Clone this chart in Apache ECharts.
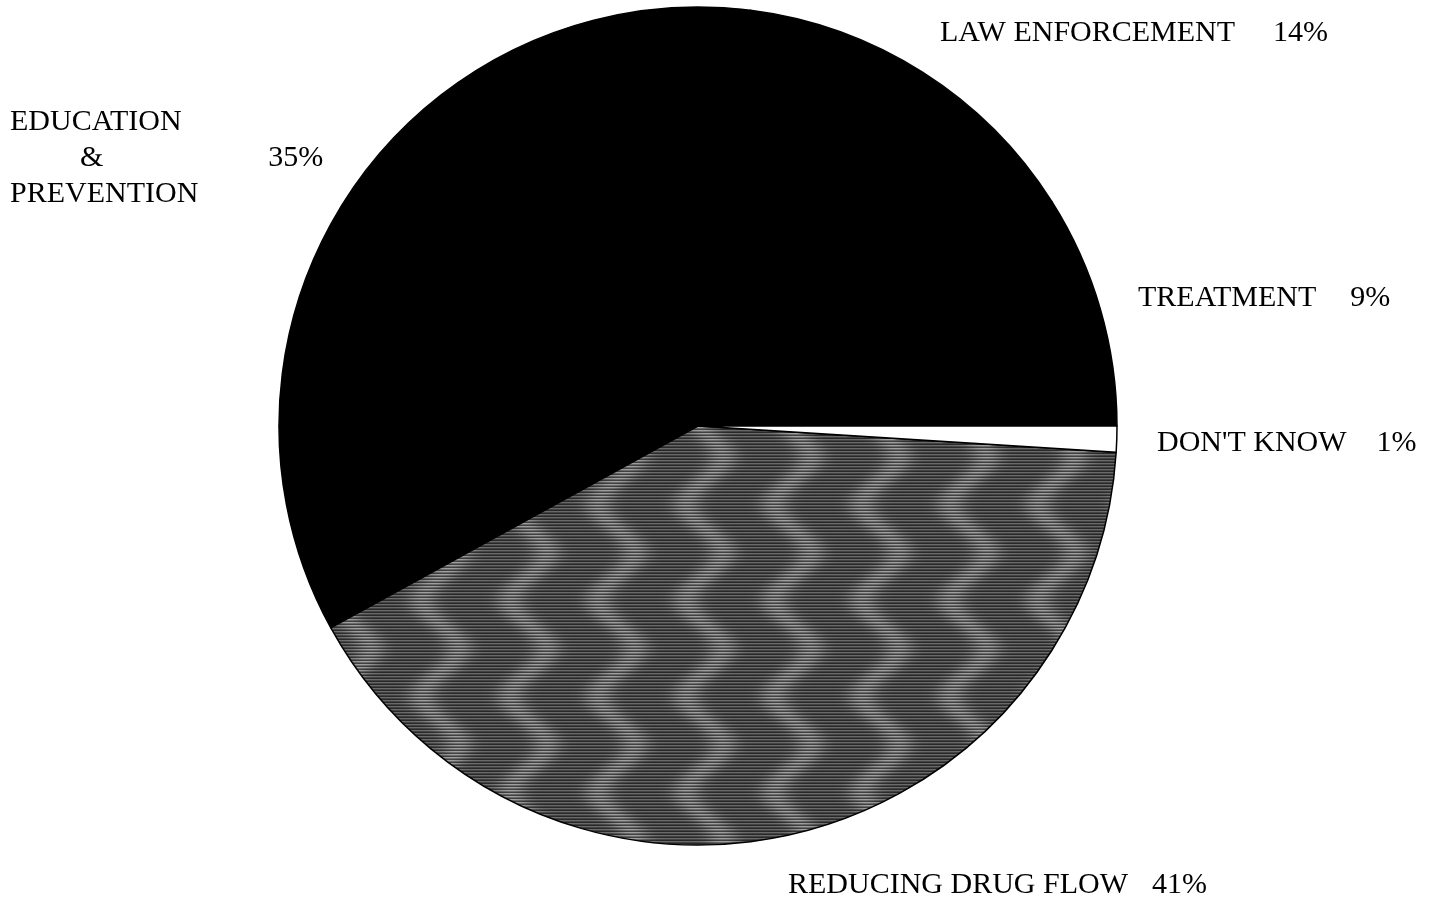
<!DOCTYPE html>
<html>
<head>
<meta charset="utf-8">
<script src="https://cdn.jsdelivr.net/npm/echarts@6/dist/echarts.min.js"></script>
<style>
html,body{margin:0;padding:0;background:#fff;}
#chart{width:1437px;height:901px;}
</style>
</head>
<body>
<div id="chart"></div>
<script>
// Data
const categories = ['TREATMENT', 'LAW ENFORCEMENT', 'EDUCATION & PREVENTION', 'REDUCING DRUG FLOW', "DON'T KNOW"];
const values = [9, 14, 35, 41, 1];

// Styling (not data): striped texture with soft wavy light bands
function stripePattern() {
  const W = 88, H = 96;
  const c = document.createElement('canvas');
  c.width = W; c.height = H;
  const ctx = c.getContext('2d');
  const img = ctx.createImageData(W, H);
  for (let y = 0; y < H; y++) {
    const s = Math.sin(2 * Math.PI * y / H);
    for (let x = 0; x < W; x++) {
      const phase = (x + 18 * s) / W;
      const light = Math.pow(0.5 + 0.5 * Math.cos(2 * Math.PI * phase), 3);
      let v;
      if (y % 3 === 0) v = 40 + light * 25;
      else if (y % 3 === 1) v = 105 + light * 55;
      else v = 66 + light * 40;
      const k = (y * W + x) * 4;
      img.data[k] = img.data[k + 1] = img.data[k + 2] = Math.round(v);
      img.data[k + 3] = 255;
    }
  }
  ctx.putImageData(img, 0, 0);
  return c;
}
const sliceColors = ['#000000', '#000000', '#000000', { image: stripePattern(), repeat: 'repeat' }, '#ffffff'];
const labelPos = [[1138, 298], [940, 33], [10, 158], [788, 885], [1157, 443]];
const pctX = [1350, 1273, 268, 1152, 1377];
const ampX = 80;

const FONT = 'Liberation Serif';
const FS = 30;
const measureCtx = document.createElement('canvas').getContext('2d');
measureCtx.font = FS + 'px "' + FONT + '"';
function tw(s) { return measureCtx.measureText(s).width; }

const chart = echarts.init(document.getElementById('chart'));
const fontBase = { fontFamily: FONT, fontSize: FS, color: '#000', lineHeight: 36 };

const rich = { n: Object.assign({}, fontBase) };
categories.forEach((name, i) => {
  let gap;
  if (name.indexOf(' & ') >= 0) {
    gap = pctX[i] - ampX - tw('&');
    rich['a'] = Object.assign({ padding: [0, 0, 0, ampX - labelPos[i][0]] }, fontBase);
  } else {
    gap = pctX[i] - labelPos[i][0] - tw(name);
  }
  rich['p' + i] = Object.assign({ padding: [0, 0, 0, Math.max(0, Math.round(gap))] }, fontBase);
});

chart.setOption({
  animation: false,
  backgroundColor: '#ffffff',
  series: [{
    type: 'pie',
    center: [698, 426],
    radius: 419,
    startAngle: 0,
    clockwise: false,
    avoidLabelOverlap: false,
    data: categories.map((n, i) => ({
      name: n,
      value: values[i],
      itemStyle: { color: sliceColors[i] }
    })),
    itemStyle: { borderColor: '#000', borderWidth: 1.5 },
    emphasis: { disabled: true },
    labelLine: { show: false },
    label: {
      show: true,
      position: 'outside',
      formatter: function (p) {
        const i = p.dataIndex;
        if (p.name.indexOf(' & ') >= 0) {
          const parts = p.name.split(' & ');
          return '{n|' + parts[0] + '}\n{a|&}{p' + i + '|' + p.value + '%}\n{n|' + parts[1] + '}';
        }
        return '{n|' + p.name + '}{p' + i + '|' + p.value + '%}';
      },
      rich: rich
    },
    labelLayout: function (params) {
      const p = labelPos[params.dataIndex];
      return { x: p[0], y: p[1], align: 'left', verticalAlign: 'middle', hideOverlap: false };
    }
  }]
});
</script>
</body>
</html>
